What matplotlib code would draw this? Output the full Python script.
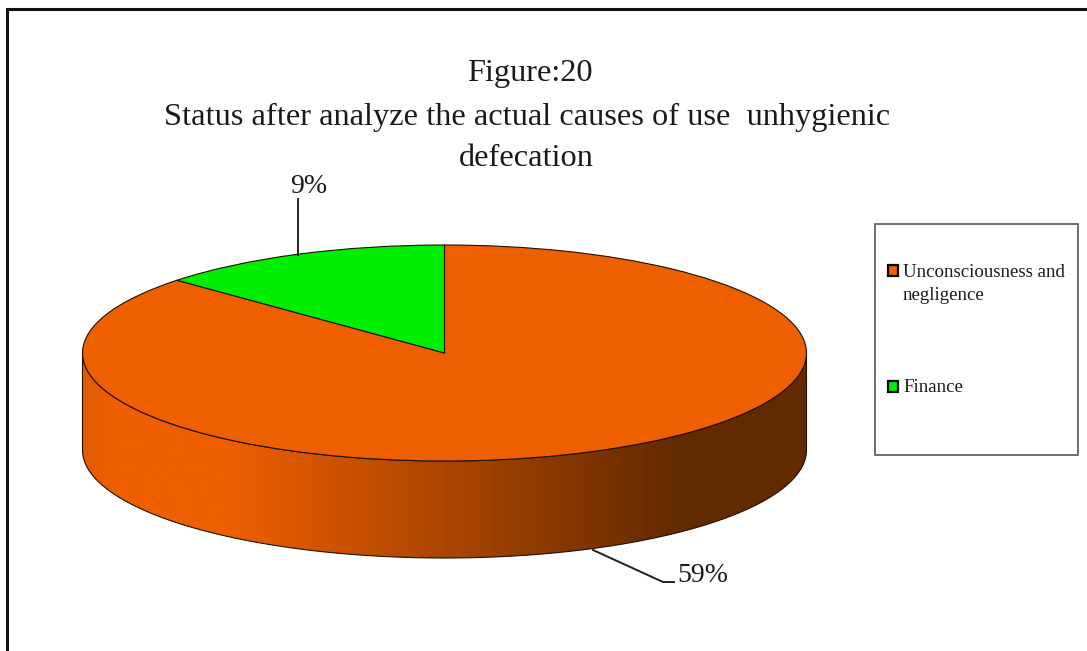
import numpy as np
import matplotlib
matplotlib.use("Agg")
import matplotlib.pyplot as plt
from matplotlib.colors import LinearSegmentedColormap
from matplotlib.patches import Rectangle, PathPatch
from matplotlib.path import Path

# data
categories = ["Unconsciousness and\nnegligence", "Finance"]
values = [59, 9]
value_labels = ["59%", "9%"]
slice_colors = ["#EE5F00", "#00EE00"]
title_lines = ["Figure:20",
               "Status after analyze the actual causes of use  unhygienic",
               "defecation"]

W, H = 1087, 651
plt.rcParams["font.family"] = ["Liberation Serif", "DejaVu Serif"]
fig = plt.figure(figsize=(W / 100, H / 100), dpi=100)

# overlay in pixel coordinates for frame, text, legend
over = fig.add_axes([0, 0, 1, 1], zorder=3)
over.set_xlim(0, W)
over.set_ylim(H, 0)
over.axis("off")
over.patch.set_alpha(0)

# pie ellipse geometry
cx, cy, rx, ry, depth = 444.5, 353, 362, 108, 97
depth_u = depth / ry

pie_ax = fig.add_axes([(cx - rx) / W, 1 - (cy + ry + depth) / H, 2 * rx / W, (2 * ry + depth) / H])
wedges, _ = pie_ax.pie(values, colors=slice_colors, startangle=90, counterclock=False,
                       radius=1, wedgeprops={"edgecolor": "#201000", "linewidth": 0.8, "zorder": 3})
pie_ax.set_aspect("auto")
pie_ax.axis("off")

# side wall of the 3d pie with the horizontal shading
stops = [(0.0, "#E35C00"), (0.04, "#EE5F00"), (0.2, "#EE5F00"), (0.3, "#D85700"),
         (0.82, "#632A00"), (1.0, "#632A00")]
cmap = LinearSegmentedColormap.from_list("side", stops)
grad = np.linspace(0, 1, 512).reshape(1, -1)
im = pie_ax.imshow(grad, cmap=cmap, extent=(-1, 1, -1 - depth_u, 1), aspect="auto", zorder=1)
t = np.linspace(np.pi, 2 * np.pi, 200)
xs = np.concatenate([np.cos(t), np.cos(t[::-1]), [-1]])
ys = np.concatenate([np.sin(t), np.sin(t[::-1]) - depth_u, [0]])
wall = PathPatch(Path(np.column_stack([xs, ys]), closed=True), fc="none", ec="#201000", lw=0.8, zorder=2,
                 transform=pie_ax.transData, clip_on=False)
pie_ax.add_patch(wall)
im.set_clip_path(wall)
pie_ax.set_xlim(-1, 1)
pie_ax.set_ylim(-1 - depth_u, 1)

# outer frame, only left and top show in the crop
over.plot([6.5, 6.5, W], [H, 9, 9], color="#111111", lw=2.2, solid_joinstyle="miter")

# title
title_y = [81, 124.5, 166]
title_x = [529.5, 527, 526.5]
for s, x, y in zip(title_lines, title_x, title_y):
    over.text(x, y, s, fontsize=23.3, ha="center", va="baseline", color="#1a1a1a")

# value labels and leader lines
over.text(290, 193, value_labels[1], fontsize=20, ha="left", va="baseline", color="#1a1a1a")
over.plot([298, 298], [199, 255], color="#222222", lw=1.4)
over.text(677, 582, value_labels[0], fontsize=20, ha="left", va="baseline", color="#1a1a1a")
over.plot([593, 663, 674], [550, 582, 582], color="#222222", lw=1.4)

# legend
over.add_patch(Rectangle((875, 224), 203, 231, fc="white", ec="#555555", lw=1.2))
marker_y = [270, 386]
for c, y in zip(slice_colors, marker_y):
    over.add_patch(Rectangle((888, y - 5.5), 10, 11, fc=c, ec="black", lw=1.6))
line1, line2 = categories[0].split("\n")
over.text(903, 277, line1, fontsize=13.6, ha="left", va="baseline", color="#1a1a1a")
over.text(903, 300, line2, fontsize=13.6, ha="left", va="baseline", color="#1a1a1a")
over.text(903, 392, categories[1], fontsize=13.6, ha="left", va="baseline", color="#1a1a1a")

fig.savefig("out.png", dpi=100, facecolor="white")
